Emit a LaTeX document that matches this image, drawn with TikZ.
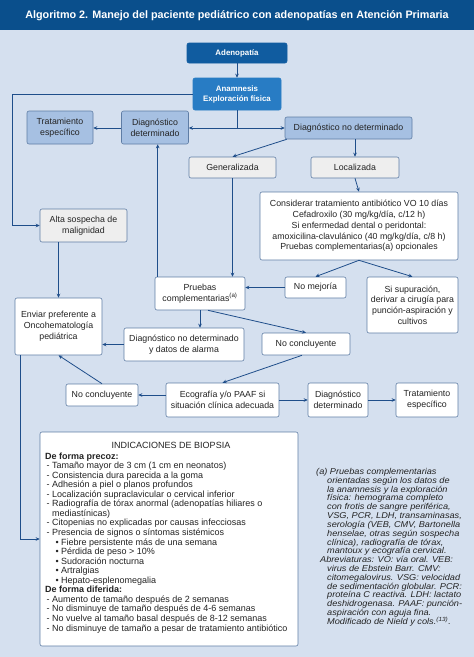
\documentclass[tikz,border=0pt]{standalone}
\usepackage{fontspec}
\setmainfont{Liberation Sans}
\newfontfamily\ftfont{Liberation Sans}[FakeStretch=1.08]
\usetikzlibrary{arrows.meta,calc}
\definecolor{hdr}{RGB}{10,79,140}
\definecolor{bgl}{RGB}{213,224,239}
\definecolor{adenc}{RGB}{16,92,160}
\definecolor{anamc}{RGB}{40,124,196}
\definecolor{lbl}{RGB}{166,192,226}
\definecolor{bord}{RGB}{95,125,165}
\definecolor{grayf}{RGB}{238,238,238}
\definecolor{arrc}{RGB}{31,78,138}
\definecolor{txt}{RGB}{35,35,35}
\begin{document}
\begin{tikzpicture}[x=1pt,y=-1pt,
  box/.style={draw=bord, line width=0.6pt, rounded corners=2pt, align=center, inner sep=1pt,
    font=\fontsize{8.8}{10.8}\selectfont, text=txt},
  wbox/.style={box, fill=white},
  gbox/.style={box, fill=grayf},
  lbox/.style={box, fill=lbl},
  dbox/.style={box, draw=adenc, text=white, font=\bfseries\fontsize{7.9}{10}\selectfont},
  arr/.style={draw=arrc, line width=0.8pt, -{Stealth[length=4pt,width=3.6pt]}},
  ln/.style={draw=arrc, line width=0.8pt},
  bt/.style={anchor=base west, inner sep=0pt, text=txt, font=\fontsize{9.0}{9.5}\selectfont},
  ft/.style={anchor=base west, inner sep=0pt, text=txt, font=\ftfont\itshape\fontsize{8.5}{8.8}\selectfont}
]
\useasboundingbox (0,0) rectangle (474,657);
\fill[bgl] (0,30) rectangle (474,657);
\fill[hdr] (0,0) rectangle (474,30);
\node[text=white, font=\bfseries\fontsize{10.8}{12}\selectfont] (title) at (237,15.5)
  {Algoritmo 2. Manejo del paciente pediátrico con adenopatías en Atención Primaria};

% nodes
\node[dbox, fill=adenc, minimum width=100pt, minimum height=20pt] (aden) at (237,53) {Adenopatía};
\node[dbox, fill=anamc, draw=anamc, minimum width=88pt, minimum height=32pt] (anam) at (237,94) {Anamnesis\\Exploración física};
\node[lbox, minimum width=66pt, minimum height=33pt] (trat1) at (60,127.5) {Tratamiento\\específico};
\node[lbox, minimum width=67pt, minimum height=33pt] (ddet1) at (155,127.5) {Diagnóstico\\determinado};
\node[lbox, minimum width=127pt, minimum height=22pt] (dnodet) at (348.5,128) {Diagnóstico no determinado};
\node[gbox, minimum width=87pt, minimum height=21pt] (gen) at (232.5,167.5) {Generalizada};
\node[gbox, minimum width=88pt, minimum height=21pt] (loc) at (355,167.5) {Localizada};
\node[wbox, minimum width=198pt, minimum height=68pt] (cons) at (359,226)
  {Considerar tratamiento antibiótico VO 10 días\\Cefadroxilo (30 mg/kg/día, c/12 h)\\Si enfermedad dental o peridontal:\\amoxicilina-clavulánico (40 mg/kg/día, c/8 h)\\Pruebas complementarias(a) opcionales};
\node[gbox, minimum width=87pt, minimum height=33pt] (alta) at (83.5,225.5) {Alta sospecha de\\malignidad};
\node[wbox, minimum width=90pt, minimum height=33pt] (pruebas) at (200,293.5) {Pruebas\\complementarias\textsuperscript{(a)}};
\node[wbox, minimum width=61pt, minimum height=21pt] (nomej) at (315.5,287.5) {No mejoría};
\node[wbox, minimum width=91pt, minimum height=56pt] (sisup) at (412.5,305) {Si supuración,\\derivar a cirugía para\\punción-aspiración y\\cultivos};
\node[wbox, minimum width=87pt, minimum height=57pt] (enviar) at (58.5,326.5) {Enviar preferente a\\Oncohematología\\pediátrica};
\node[wbox, minimum width=120pt, minimum height=33pt] (ddnda) at (184,344.5) {Diagnóstico no determinado\\y datos de alarma};
\node[wbox, minimum width=88pt, minimum height=22pt] (nc1) at (306,344) {No concluyente};
\node[wbox, minimum width=113pt, minimum height=34pt] (eco) at (222.5,400) {Ecografía y/o PAAF si\\situación clínica adecuada};
\node[wbox, minimum width=72pt, minimum height=22pt] (nc2) at (102,395) {No concluyente};
\node[wbox, minimum width=60pt, minimum height=34pt] (ddet2) at (338,400) {Diagnóstico\\determinado};
\node[wbox, minimum width=62pt, minimum height=34pt] (trat2) at (427,400) {Tratamiento\\específico};
\node[wbox, minimum width=258pt, minimum height=214pt] (biop) at (169,539) {};

% connectors
\coordinate (j1) at (237,128);
\coordinate (lft) at (12,0);
\draw[arr] (aden) -- (anam);
\draw[ln] (anam.south) -- (j1);
\draw[arr] (j1) -- (j1 -| ddet1.east);
\draw[arr] (j1) -- (j1 -| dnodet.west);
\draw[arr] (ddet1.west |- j1) -- (j1 -| trat1.east);
\draw[arr] (anam.west) -- (anam.west -| lft) -- (lft |- alta.west) -- (alta.west);
\draw[arr] ($(dnodet.south west)+(2,0)$) -- (gen.north);
\draw[arr] (dnodet.south -| loc.north) -- (loc.north);
\draw[arr] (loc.south) -- (cons.north);
\draw[arr] (gen.south) -- (gen.south |- pruebas.north);
\coordinate (pl) at ($(pruebas.north west)+(3,0)$);
\draw[arr] (pl) -- (pl |- ddet1.south);
\draw[arr] (cons.south) -- (nomej.north);
\draw[arr] (cons.south) -- (sisup.north);
\draw[arr] (nomej.west) -- (nomej.west -| pruebas.east);
\draw[arr] (pruebas.south) -- (pruebas.south |- ddnda.north);
\draw[arr] ($(pruebas.south)+(8,0)$) -- (nc1.north);
\draw[arr] (ddnda.west) -- (ddnda.west -| enviar.east);
\draw[arr] ($(nc1.south)+(-4,0)$) -- (eco.north);
\draw[arr] (nc2.east -| eco.west) -- (nc2.east);
\draw[arr] (nc2.north) -- (enviar.south);
\draw[arr] (eco.east) -- (ddet2.west);
\draw[arr] (ddet2.east) -- (trat2.west);
\draw[arr] (enviar.north |- alta.south) -- (enviar.north);
\coordinate (esw) at ($(enviar.south west)+(6,0)$);
\draw[arr] (esw) |- (biop.west);

% biopsy text
\node[anchor=base, inner sep=0pt, text=txt, font=\fontsize{9.0}{9.5}\selectfont] (btitle) at (171,448) {INDICACIONES DE BIOPSIA};
\foreach \xx/\txt [count=\k] in {
 45/{\textbf{De forma precoz:}},
 52/{\llap{-\hspace{2.5pt}}Tamaño mayor de 3 cm (1 cm en neonatos)},
 52/{\llap{-\hspace{2.5pt}}Consistencia dura parecida a la goma},
 52/{\llap{-\hspace{2.5pt}}Adhesión a piel o planos profundos},
 52/{\llap{-\hspace{2.5pt}}Localización supraclavicular o cervical inferior},
 52/{\llap{-\hspace{2.5pt}}Radiografía de tórax anormal (adenopatías hiliares o},
 52/{mediastínicas)},
 52/{\llap{-\hspace{2.5pt}}Citopenias no explicadas por causas infecciosas},
 52/{\llap{-\hspace{2.5pt}}Presencia de signos o síntomas sistémicos},
 61/{\llap{\textbullet\hspace{2.5pt}}Fiebre persistente más de una semana},
 61/{\llap{\textbullet\hspace{2.5pt}}Pérdida de peso > 10\%},
 61/{\llap{\textbullet\hspace{2.5pt}}Sudoración nocturna},
 61/{\llap{\textbullet\hspace{2.5pt}}Artralgias},
 61/{\llap{\textbullet\hspace{2.5pt}}Hepato-esplenomegalia},
 45/{\textbf{De forma diferida:}},
 52/{\llap{-\hspace{2.5pt}}Aumento de tamaño después de 2 semanas},
 52/{\llap{-\hspace{2.5pt}}No disminuye de tamaño después de 4-6 semanas},
 52/{\llap{-\hspace{2.5pt}}No vuelve al tamaño basal después de 8-12 semanas},
 52/{\llap{-\hspace{2.5pt}}No disminuye de tamaño a pesar de tratamiento antibiótico}}
 {\node[bt] (bl\k) at (\xx,{459+9.56*(\k-1)}) {\txt};}

% footnote
\foreach \xx/\txt [count=\k] in {
 316/{(a) Pruebas complementarias},
 327/{orientadas según los datos de},
 327/{la anamnesis y la exploración},
 327/{física: hemograma completo},
 327/{con frotis de sangre periférica,},
 327/{VSG, PCR, LDH, transaminasas,},
 327/{serología (VEB, CMV, Bartonella},
 327/{henselae, otras según sospecha},
 327/{clínica), radiografía de tórax,},
 327/{mantoux y ecografía cervical.},
 320/{Abreviaturas: VO: vía oral. VEB:},
 327/{virus de Ebstein Barr. CMV:},
 327/{citomegalovirus. VSG: velocidad},
 327/{de sedimentación globular. PCR:},
 327/{proteína C reactiva. LDH: lactato},
 327/{deshidrogenasa. PAAF: punción-},
 327/{aspiración con aguja fina.},
 327/{Modificado de Nield y cols.\textsuperscript{(13)}.}}
 {\node[ft] (fl\k) at (\xx,{474.5+8.82*(\k-1)}) {\txt};}
\end{tikzpicture}
\end{document}
